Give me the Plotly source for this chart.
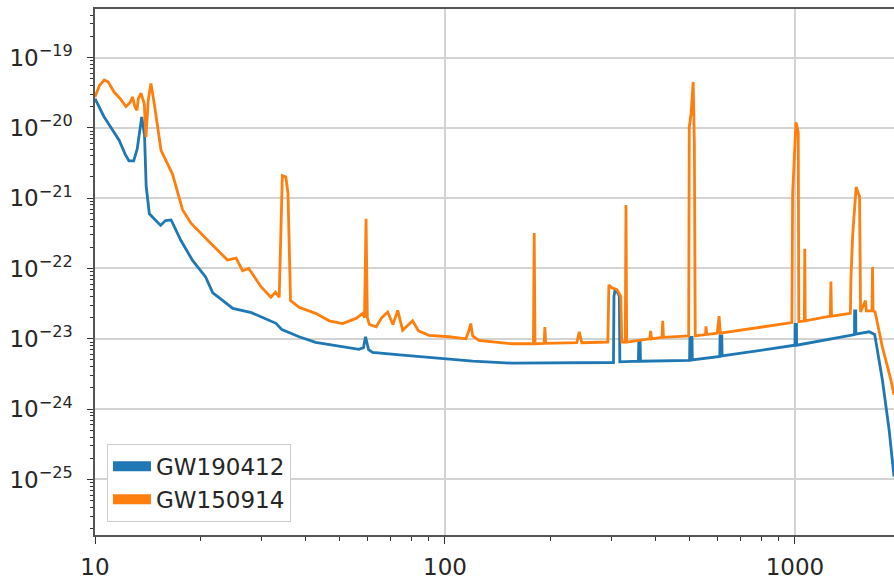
import math
import plotly.graph_objects as go

# ---- data ----
names = ["GW190412", "GW150914"]

freq_190412 = [10, 10.6, 11.2, 11.73, 12.2, 12.5, 12.9, 13.2, 13.6, 13.85, 14.0, 14.3, 14.8,
               15.4, 15.9, 16.5, 17.6, 19.0, 20.7, 21.7, 23.0, 24.75, 28.0, 32.9, 34.2, 38.3,
               42.7, 50, 56.8, 58.5, 59.3, 60.5, 62.1, 74.2, 98.5, 120, 156, 242, 303, 304,
               306, 312, 315, 316, 357, 358, 361, 362, 500, 501, 508, 509, 610, 611, 618, 619,
               649, 1000, 1001, 1010, 1011, 1480, 1481, 1492, 1493, 1630, 1690, 1778, 1859, 1919]
asd_190412 = [2.6e-20, 1.45e-20, 9.5e-21, 6.6e-21, 4.2e-21, 3.4e-21, 3.4e-21, 5e-21, 1.43e-20,
              8e-21, 1.5e-21, 6e-22, 5e-22, 4.1e-22, 4.8e-22, 4.9e-22, 2.5e-22, 1.3e-22, 7.6e-23,
              4.5e-23, 3.6e-23, 2.7e-23, 2.35e-23, 1.66e-23, 1.35e-23, 1.07e-23, 8.9e-24, 7.8e-24,
              7.1e-24, 7.5e-24, 1.07e-23, 7e-24, 6.4e-24, 5.9e-24, 5.3e-24, 4.8e-24, 4.5e-24,
              4.5e-24, 4.6e-24, 4e-23, 4.9e-23, 4.5e-23, 4e-23, 4.7e-24, 4.8e-24, 9e-24, 9e-24,
              4.8e-24, 4.95e-24, 1.05e-23, 1.05e-23, 5e-24, 5.6e-24, 1.1e-23, 1.1e-23, 5.7e-24,
              5.9e-24, 8.1e-24, 1.6e-23, 1.6e-23, 8.1e-24, 1.15e-23, 2.5e-23, 2.5e-23, 1.17e-23,
              1.26e-23, 1.15e-23, 2.6e-24, 5e-25, 1.1e-25]

freq_150914 = [10, 10.3, 10.63, 10.9, 11.35, 11.8, 12.26, 12.6, 12.8, 13.0, 13.18, 13.3, 13.53,
               13.83, 13.98, 14.2, 14.45, 14.77, 15.44, 16.65, 17.8, 18.8, 21.2, 23.9, 25.3, 26.4,
               27.5, 29.8, 31.8, 32.8, 33.6, 34.3, 35.1, 35.6, 36.2, 38.3, 42.7, 46.7, 51.0, 55.7,
               58.2, 58.9, 59.5, 60.0, 60.8, 63.6, 66, 68.6, 71, 73.3, 75.7, 78, 80.8, 84, 90,
               102.6, 114.8, 117, 118.5, 120, 125, 139.4, 155.5, 179, 179.9, 180.8, 192, 193, 194,
               238, 242, 246, 292, 294, 300, 310, 318, 320, 327.5, 329, 330.5, 385, 387, 389, 417,
               419, 421, 497, 499, 505, 512, 516, 519, 555, 557, 560, 600, 607, 612, 980, 985,
               1007, 1022, 1026, 1064, 1067, 1070, 1262, 1267, 1272, 1440, 1446, 1462, 1496, 1530,
               1540, 1590, 1600, 1660, 1666, 1672, 1695, 1778, 1880, 1919]
asd_150914 = [2.75e-20, 4e-20, 4.8e-20, 4.5e-20, 3.2e-20, 2.6e-20, 2.0e-20, 2.3e-20, 2.75e-20,
              2.0e-20, 1.78e-20, 2.6e-20, 3.1e-20, 2.2e-20, 7.4e-21, 2.5e-20, 4.27e-20, 2.2e-20,
              4.8e-21, 2.2e-21, 6.8e-22, 4.4e-22, 2.4e-22, 1.32e-22, 1.4e-22, 9.3e-23, 1.0e-22,
              5.5e-23, 3.9e-23, 4.6e-23, 3.9e-23, 2.1e-21, 2.0e-21, 1.17e-21, 3.5e-23, 2.8e-23,
              2.3e-23, 1.8e-23, 1.65e-23, 1.95e-23, 2.3e-23, 2.0e-23, 5.1e-22, 2.0e-23, 1.6e-23,
              1.48e-23, 2.0e-23, 2.4e-23, 1.6e-23, 2.54e-23, 1.32e-23, 1.5e-23, 1.8e-23, 1.3e-23,
              1.12e-23, 1.07e-23, 1.0e-23, 1.3e-23, 1.65e-23, 1.1e-23, 9.5e-24, 9e-24, 8.5e-24,
              8.5e-24, 3.2e-22, 8.5e-24, 8.6e-24, 1.47e-23, 8.6e-24, 8.8e-24, 1.26e-23, 8.8e-24,
              9e-24, 5.8e-23, 5.3e-23, 5e-23, 4e-23, 9e-24, 9e-24, 8e-22, 9e-24, 1.0e-23, 1.3e-23,
              1.0e-23, 1.05e-23, 1.8e-23, 1.05e-23, 1.1e-23, 1.03e-20, 1.6e-20, 4.5e-20, 6e-21,
              1.1e-23, 1.15e-23, 1.5e-23, 1.15e-23, 1.2e-23, 2.1e-23, 1.2e-23, 1.7e-23, 1.17e-21,
              1.2e-20, 8.7e-21, 1.75e-23, 1.8e-23, 1.9e-22, 1.8e-23, 2.1e-23, 6.5e-23, 2.1e-23,
              2.3e-23, 7.6e-23, 2.95e-22, 1.44e-21, 1.05e-21, 2.4e-23, 3.5e-23, 2.5e-23, 2.5e-23,
              1.05e-22, 2.5e-23, 2.4e-23, 7.6e-24, 2.6e-24, 1.6e-24]

x_ticks = [10, 100, 1000]
x_tick_labels = ["10", "100", "1000"]
y_exponents = [-25, -24, -23, -22, -21, -20, -19]
y_ticks = [10.0 ** e for e in y_exponents]
y_tick_labels = ["10<sup>\u2212%d</sup>" % (-e) for e in y_exponents]

colors = ["#1f77b4", "#ff7f0e"]

# ---- figure ----
fig = go.Figure()
series = [(freq_190412, asd_190412), (freq_150914, asd_150914)]
for (fx, fy), name, col in zip(series, names, colors):
    fig.add_trace(go.Scatter(x=fx, y=fy, mode="lines", name=name, showlegend=False,
                             line=dict(color=col, width=2.8)))
# legend patches
for name, col in zip(names, colors):
    fig.add_trace(go.Scatter(x=[None], y=[None], mode="lines", name=name,
                             line=dict(color=col, width=13)))

x_minor = [m * 10 ** e for e in (1, 2, 3) for m in range(2, 10)]
y_minor = [m * 10.0 ** e for e in range(-26, -18) for m in range(2, 10)]

font = dict(family="DejaVu Sans", size=23, color="#262626")
fig.update_layout(
    width=894, height=583,
    margin=dict(l=95, r=0, t=9, b=48, autoexpand=False),
    paper_bgcolor="white", plot_bgcolor="white",
    font=font,
    legend=dict(x=0.015, y=0.025, xanchor="left", yanchor="bottom",
                bgcolor="white", bordercolor="#cccccc", borderwidth=1,
                font=dict(family="DejaVu Sans", size=23, color="#262626"),
                itemwidth=38),
)
fig.update_xaxes(
    type="log", range=[1, math.log10(1919)], automargin=False,
    tickmode="array", tickvals=x_ticks, ticktext=x_tick_labels,
    ticks="outside", ticklen=7, tickwidth=1.2, tickcolor="#333333",
    showline=True, linecolor="#555555", linewidth=1.5, mirror=True,
    showgrid=True, gridcolor="#d3d3d3", gridwidth=1.5, zeroline=False,
    ticklabelstandoff=4,
    minor=dict(tickmode="array", tickvals=x_minor, ticks="outside", ticklen=4,
               tickcolor="#333333", tickwidth=1, showgrid=False),
)
fig.update_yaxes(
    type="log", range=[-25.79, -18.31], automargin=False,
    tickmode="array", tickvals=y_ticks, ticktext=y_tick_labels,
    ticks="outside", ticklen=6, tickwidth=1.2, tickcolor="#333333",
    showline=True, linecolor="#555555", linewidth=1.5, mirror=False,
    showgrid=True, gridcolor="#d3d3d3", gridwidth=1.5, zeroline=False,
    ticklabelstandoff=10,
    minor=dict(tickmode="array", tickvals=y_minor, ticks="outside", ticklen=3,
               tickcolor="#333333", tickwidth=1, showgrid=False),
)

fig.write_html("out.html")
